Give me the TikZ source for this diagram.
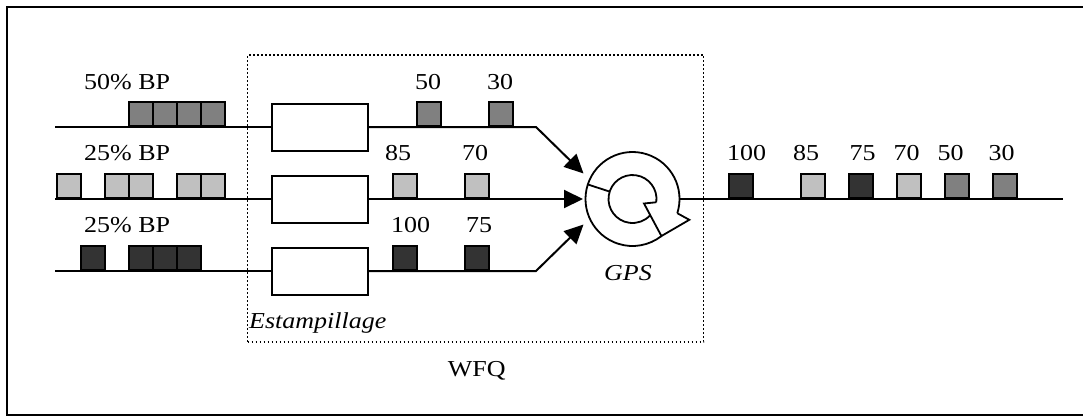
\documentclass[tikz,border=0pt]{standalone}
\usepackage{fontspec}
\setmainfont{Liberation Serif}[FakeStretch=1.14]
\usetikzlibrary{arrows.meta,calc}
\definecolor{pmid}{HTML}{808080}
\definecolor{plight}{HTML}{C0C0C0}
\definecolor{pdark}{HTML}{333333}
\tikzset{
  ln/.style={line width=2pt},
  pk/.style={draw, line width=1.8pt, minimum size=24pt, inner sep=0pt, anchor=south west},
  pkm/.style={pk, fill=pmid},
  pkl/.style={pk, fill=plight},
  pkd/.style={pk, fill=pdark},
  qbox/.style={draw, line width=2pt, minimum width=96pt, minimum height=47pt, inner sep=0pt, fill=white},
  lbl/.style={font=\fontsize{22.8}{27}\selectfont, inner sep=0pt, anchor=base},
  arr/.style={ln, -{Triangle[length=19pt,width=18pt]}},
  ring/.style={line width=1.8pt, line join=miter},
}
\begin{document}
\begin{tikzpicture}[x=1pt,y=-1pt]
\useasboundingbox (0,0) rectangle (1083,416);
% outer frame (right side cut off)
\draw[line width=2pt] (1095,7) -- (7,7) -- (7,415) -- (1095,415);
% WFQ dotted box
\node[draw, line width=1.6pt, dash pattern=on 1.8pt off 2.2pt, minimum width=456pt, minimum height=287pt, inner sep=0pt] (wfq) at (475.5,198.5) {};
% coordinates
\coordinate (s1) at (55,127);
\coordinate (s2) at (55,199);
\coordinate (s3) at (55,271);
\coordinate (k1) at (536,127);
\coordinate (k3) at (536,271);
\coordinate (t1) at (583.5,173.5);
\coordinate (t2) at (583,199);
\coordinate (t3) at (583.5,224.5);
\coordinate (o) at (1063,199);
% estampillage boxes
\node[qbox] (e1) at (320,127) {};
\node[qbox] (e2) at (320,199) {};
\node[qbox] (e3) at (320,271) {};
% GPS
\coordinate (c) at (632.5,199);
\node[circle, minimum size=95pt, inner sep=0pt] (gps) at (c) {};
% lines
\draw[ln] (s1) -- (e1.west);
\draw[ln] (s2) -- (e2.west);
\draw[ln] (s3) -- (e3.west);
\draw[arr] (e1.east) -- (k1) -- (t1);
\draw[arr] (e2.east) -- (t2);
\draw[arr] (e3.east) -- (k3) -- (t3);
\draw[ln] (gps.east) -- (o);
% circular arrow
\draw[ring] ($(c)+(17.6:47)$) arc[start angle=17.6, end angle=-308, radius=47];
\draw[ring] ($(c)+(7.8:24)$) arc[start angle=7.8, end angle=-317, radius=24];
\draw[ring] ($(c)+(198:24)$) -- ($(c)+(198:47)$);
\draw[ring] ($(c)+(17.6:47)$) -- (689.3,219.8) -- ($(c)+(52:47)$) -- (644,203.5) -- ($(c)+(7.8:24)$);
% input packets
\foreach \x [count=\i] in {128,152,176,200} \node[pkm] (pa\i) at (\x,127) {};
\foreach \x [count=\i] in {56,104,128,176,200} \node[pkl] (pb\i) at (\x,199) {};
\foreach \x [count=\i] in {80,128,152,176} \node[pkd] (pc\i) at (\x,271) {};
% stamped packets
\node[pkm] (qa1) at (416,127) {};
\node[pkm] (qa2) at (488,127) {};
\node[pkl] (qb1) at (392,199) {};
\node[pkl] (qb2) at (464,199) {};
\node[pkd] (qc1) at (392,271) {};
\node[pkd] (qc2) at (464,271) {};
% output packets
\node[pkd] (r1) at (728,199) {};
\node[pkl] (r2) at (800,199) {};
\node[pkd] (r3) at (848,199) {};
\node[pkl] (r4) at (896,199) {};
\node[pkm] (r5) at (944,199) {};
\node[pkm] (r6) at (992,199) {};
% labels
\node[lbl, anchor=base west] (l1) at (84,89) {50\% BP};
\node[lbl, anchor=base west] (l2) at (84,160.5) {25\% BP};
\node[lbl, anchor=base west] (l3) at (84,232.5) {25\% BP};
\node[lbl] (n50) at (428,89) {50};
\node[lbl] (n30) at (500,89) {30};
\node[lbl] (n85) at (398,160.5) {85};
\node[lbl] (n70) at (475,160.5) {70};
\node[lbl] (n100) at (410.7,232.5) {100};
\node[lbl] (n75) at (479,232.5) {75};
\node[lbl] (m100) at (746.7,160.5) {100};
\node[lbl] (m85) at (806,160.5) {85};
\node[lbl] (m75) at (862.7,160.5) {75};
\node[lbl] (m70) at (906.7,160.5) {70};
\node[lbl] (m50) at (950.7,160.5) {50};
\node[lbl] (m30) at (1001.7,160.5) {30};
\node[lbl] (gpsl) at (628,280) {\itshape GPS};
\node[lbl, anchor=base west] (est) at (249,328.5) {\itshape Estampillage};
\node[lbl] (wfql) at (476.7,376.5) {WFQ};
\end{tikzpicture}
\end{document}
